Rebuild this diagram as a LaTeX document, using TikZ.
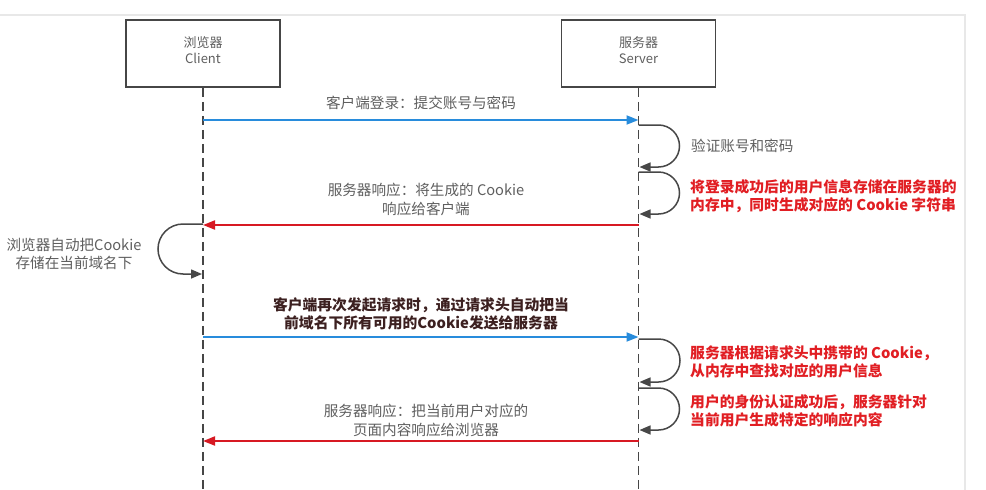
\documentclass[tikz,border=0pt]{standalone}
\usepackage{fontspec}
\setmainfont{Noto Sans CJK SC}
\usetikzlibrary{arrows.meta}
\definecolor{txtgray}{RGB}{95,95,95}
\definecolor{redtxt}{RGB}{225,30,35}
\definecolor{darktxt}{RGB}{60,32,32}
\definecolor{bluearr}{RGB}{40,140,220}
\definecolor{redarr}{RGB}{215,25,35}
\definecolor{linegray}{RGB}{70,70,70}
\definecolor{framegray}{RGB}{232,232,232}
\tikzset{
  actor/.style={draw=linegray, line width=1.6pt, minimum width=154pt, minimum height=67pt, inner sep=0pt, align=center, text=txtgray, font=\fontsize{13}{16.5}\selectfont},
  lifeline/.style={draw=linegray, line width=1.6pt, dash pattern=on 9pt off 5pt},
  msgblue/.style={draw=bluearr, line width=1.8pt, -{Triangle[length=12pt,width=9pt]}},
  msgred/.style={draw=redarr, line width=1.8pt, -{Triangle[length=12pt,width=9pt]}},
  selfloop/.style={draw=black!72, line width=1.5pt, -{Triangle[length=11pt,width=9pt]}},
  graylbl/.style={text=txtgray, align=center, inner sep=0pt, font=\fontsize{14.6}{18.5}\selectfont},
  redlbl/.style={text=redtxt, align=left, anchor=west, inner sep=0pt, font=\fontsize{14.8}{18.5}\selectfont\bfseries},
  darklbl/.style={text=darktxt, align=center, inner sep=0pt, font=\fontsize{14.8}{18.5}\selectfont\bfseries},
}
\begin{document}
\begin{tikzpicture}[x=1pt,y=-1pt]
\useasboundingbox (0,0) rectangle (986,490);
\fill[white] (0,0) rectangle (986,490);
\draw[framegray, line width=1.2pt] (0,15) -- (965,15) -- (965,490);

% actors
\node[actor] (client) at (203,53.5) {};
\node[actor] (server) at (638.5,53.5) {};
\node[actor, draw=none, minimum width=0pt, minimum height=0pt] (clienttxt) at (203,50) {浏览器\\Client};
\node[actor, draw=none, minimum width=0pt, minimum height=0pt] (servertxt) at (638.5,50) {服务器\\Server};

% lifelines
\coordinate (cend) at (203,490);
\coordinate (send) at (638.5,490);
\draw[lifeline] (client.south) -- (cend);
\draw[lifeline] (server.south) -- (send);

% message 1
\coordinate (c1) at (203,120);
\coordinate (s1) at (638.5,120);
\draw[msgblue] (c1) -- (s1);
\node[graylbl] (l1) at (421,103) {客户端登录：提交账号与密码};

% server loop A
\coordinate (sa1) at (638.5,125);
\coordinate (sa2) at (639.5,167);
\draw[selfloop] (sa1) -- ++(20,0) arc[start angle=-90, end angle=90, radius=21] -- (sa2);
\node[graylbl, anchor=west] (la) at (691,146) {验证账号和密码};

% server loop B
\coordinate (sb1) at (638.5,172);
\coordinate (sb2) at (639.5,214);
\draw[selfloop] (sb1) -- ++(20,0) arc[start angle=-90, end angle=90, radius=21] -- (sb2);
\node[redlbl] (lb) at (690,196) {将登录成功后的用户信息存储在服务器的\\内存中，同时生成对应的 Cookie 字符串};

% message 2
\coordinate (s2) at (638.5,225);
\coordinate (c2) at (203,225);
\draw[msgred] (s2) -- (c2);
\node[graylbl] (l2) at (426,199.5) {服务器响应：将生成的 Cookie\\响应给客户端};

% client loop
\coordinate (ca1) at (203,224);
\coordinate (ca2) at (202,274);
\draw[selfloop] (ca1) -- ++(-20,0) arc[start angle=-90, end angle=-270, radius=25] -- (ca2);
\node[graylbl] (lc) at (74,254) {浏览器自动把Cookie\\存储在当前域名下};

% message 3
\coordinate (c3) at (203,337);
\coordinate (s3) at (638.5,337);
\draw[msgblue] (c3) -- (s3);
\node[darklbl] (l3) at (421,314) {客户端再次发起请求时，通过请求头自动把当\\前域名下所有可用的Cookie发送给服务器};

% server loop C
\coordinate (sc1) at (638.5,339);
\coordinate (sc2) at (639.5,382);
\draw[selfloop] (sc1) -- ++(20,0) arc[start angle=-90, end angle=90, radius=21.5] -- (sc2);
\node[redlbl] (lcc) at (690,362) {服务器根据请求头中携带的 Cookie，\\从内存中查找对应的用户信息};

% server loop D
\coordinate (sd1) at (638.5,388);
\coordinate (sd2) at (639.5,430);
\draw[selfloop] (sd1) -- ++(20,0) arc[start angle=-90, end angle=90, radius=21] -- (sd2);
\node[redlbl] (ld) at (690,411) {用户的身份认证成功后，服务器针对\\当前用户生成特定的响应内容};

% message 4
\coordinate (s4) at (638.5,441);
\coordinate (c4) at (203,441);
\draw[msgred] (s4) -- (c4);
\node[graylbl] (l4) at (426,420.5) {服务器响应：把当前用户对应的\\页面内容响应给浏览器};
\end{tikzpicture}
\end{document}
